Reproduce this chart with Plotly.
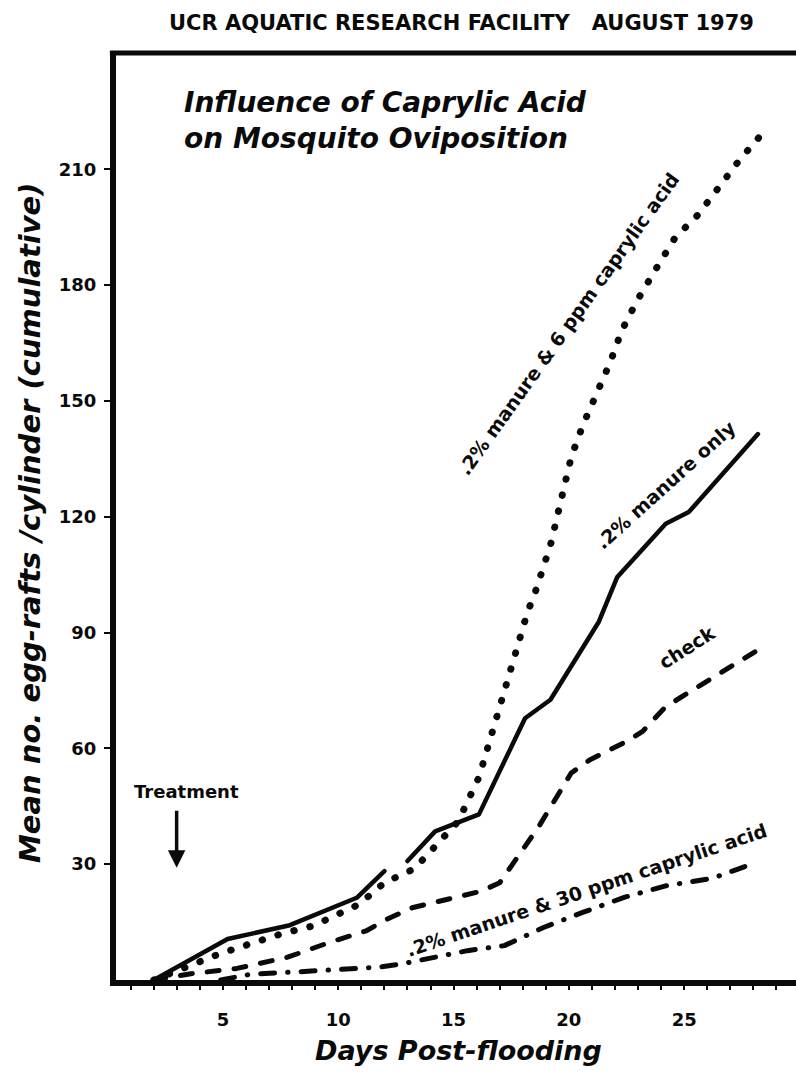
import plotly.graph_objects as go

# ---- data ----
days_manure_only = [2, 5.2, 7.9, 10.8, 12.0, None, 13.0, 14.2, 16.1, 18.1, 19.2, 21.3, 22.1, 24.2, 25.2, 28.2]
vals_manure_only = [0, 10.6, 14.2, 21.3, 28.2, None, 30.8, 38.5, 42.9, 67.8, 72.6, 92.8, 104.4, 118.2, 121.2, 141.4]

days_6ppm = [2, 4.9, 7.5, 8.9, 10.9, 12.0, 13.3, 14.3, 15.2, 16.1, 16.5, 16.9, 17.6, 18.2, 18.5,
             19.2, 19.8, 20.1, 20.6, 21.2, 21.8, 22.3, 23.0, 23.8, 24.6, 25.6, 26.6, 27.4, 28.4]
vals_6ppm = [0, 6.9, 11.9, 14.0, 19.6, 25.2, 28.8, 35.1, 41.1, 52.5, 60.9, 69.7, 82.9, 95.2, 99.7,
             112.6, 127.2, 135.4, 143.6, 151.7, 160.1, 168.3, 176.4, 184.4, 192.2, 198.2, 206.0, 212.4, 219.3]

days_check = [2, 3.6, 5.6, 7.8, 9.6, 11.2, 12.1, 13.2, 16.2, 17.0, 18.7, 20.1, 20.9, 22.5, 23.2, 24.2, 28.2]
vals_check = [0, 1.6, 3.0, 5.9, 9.7, 12.7, 15.7, 18.7, 23.0, 25.2, 39.8, 53.6, 57.0, 61.8, 64.4, 70.8, 85.5]

days_30ppm = [4.9, 6.2, 8.2, 9.8, 11.7, 12.7, 13.5, 15.6, 17.2, 18.9, 20.6, 22.4, 24.2, 26.2, 28.1]
vals_30ppm = [0, 1.5, 2.1, 2.6, 3.3, 4.1, 5.0, 7.6, 8.9, 13.6, 17.5, 21.4, 24.4, 26.3, 30.4]

x_tick_vals = [5, 10, 15, 20, 25]
x_minor_vals = list(range(1, 30))
y_tick_vals = [30, 60, 90, 120, 150, 180, 210]

FONT = "DejaVu Sans"
INK = "#0a0a0a"

fig = go.Figure()
fig.add_trace(go.Scatter(x=days_6ppm, y=vals_6ppm, mode="lines",
                         line=dict(color=INK, width=7, dash="0.5px,16px"),
                         connectgaps=False, hoverinfo="skip"))
fig.add_trace(go.Scatter(x=days_manure_only, y=vals_manure_only, mode="lines",
                         line=dict(color=INK, width=4.5), connectgaps=False, hoverinfo="skip"))
fig.add_trace(go.Scatter(x=days_check, y=vals_check, mode="lines",
                         line=dict(color=INK, width=5, dash="12px,15px"), hoverinfo="skip"))
fig.add_trace(go.Scatter(x=days_30ppm, y=vals_30ppm, mode="lines",
                         line=dict(color=INK, width=5, dash="14px,13px,0.5px,13px"), hoverinfo="skip"))

lab = dict(family=FONT, size=19, color=INK, weight="bold")
fig.add_annotation(x=19.96, y=170.0, text=".2% manure & 6 ppm caprylic acid", textangle=-54.5,
                   showarrow=False, font=lab)
fig.add_annotation(x=24.17, y=128.3, text=".2% manure only", textangle=-42,
                   showarrow=False, font=lab)
fig.add_annotation(x=25.14, y=86.2, text="check", textangle=-32.5,
                   showarrow=False, font=lab)
fig.add_annotation(x=20.75, y=23.3, text=".2% manure & 30 ppm caprylic acid", textangle=-18.6,
                   showarrow=False, font=lab)
fig.add_annotation(x=3.42, y=48.8, text="Treatment", showarrow=False,
                   font=dict(family=FONT, size=18, color=INK, weight="bold"))
fig.add_annotation(x=2.99, y=29.1, ax=2.99, ay=44.2, axref="x", ayref="y", text="",
                   showarrow=True, arrowhead=2, arrowsize=1, arrowwidth=3.5, arrowcolor=INK)

# titles
fig.add_annotation(xref="paper", yref="paper", x=0.5074, y=1.0324, xanchor="center", yanchor="middle",
                   text="UCR AQUATIC RESEARCH FACILITY   AUGUST 1979", showarrow=False,
                   font=dict(family=FONT, size=21, color=INK, weight="bold"))
fig.add_annotation(xref="paper", yref="paper", x=0.0971, y=0.9272, xanchor="left", yanchor="middle",
                   align="left", text="Influence of Caprylic Acid<br>on Mosquito Oviposition", showarrow=False,
                   font=dict(family=FONT, size=28, color=INK, weight="bold", style="italic"))
fig.add_annotation(xref="paper", yref="paper", x=0.503, y=-0.0765, xanchor="center", yanchor="middle",
                   text="Days Post-flooding", showarrow=False,
                   font=dict(family=FONT, size=27, color=INK, weight="bold", style="italic"))
fig.add_annotation(xref="paper", yref="paper", x=-0.1265, y=0.494, xanchor="center", yanchor="middle",
                   text="Mean no. egg-rafts /cylinder (cumulative)", textangle=-90, showarrow=False,
                   font=dict(family=FONT, size=29, color=INK, weight="bold", style="italic"))

# top border of the frame
fig.add_shape(type="line", xref="paper", yref="paper", x0=-0.009, x1=1.0, y0=1, y1=1,
              line=dict(color=INK, width=5))

tickfont = dict(family=FONT, size=18, color=INK, weight="bold")
fig.update_xaxes(range=[0.36, 29.85], showline=True, linewidth=6, linecolor=INK,
                 ticks="outside", tickvals=x_tick_vals, ticklen=4, tickwidth=2, tickcolor=INK,
                 minor=dict(tickvals=x_minor_vals, ticks="outside", ticklen=4, tickwidth=2, tickcolor=INK),
                 showgrid=False, zeroline=False, tickfont=tickfont, ticklabelstandoff=14)
fig.update_yaxes(range=[0, 240.1], showline=True, linewidth=6, linecolor=INK,
                 ticks="outside", tickvals=y_tick_vals, ticklen=6, tickwidth=2, tickcolor=INK,
                 showgrid=False, zeroline=False, tickfont=tickfont, ticklabelstandoff=4)

fig.update_layout(width=796, height=1072, margin=dict(l=116, r=0, t=53, b=92),
                  paper_bgcolor="white", plot_bgcolor="white", showlegend=False,
                  hovermode=False)

post = ("document.documentElement.style.margin='0';document.body.style.margin='0';"
        "document.body.style.overflow='hidden';"
        "var s=document.createElement('style');"
        "s.textContent='body{margin:0 !important;} .modebar-container{display:none !important;} "
        ".js-line{stroke-linecap:round !important;stroke-linejoin:round !important;}';"
        "document.head.appendChild(s);")
fig.write_html("out.html", post_script=post, config={"displayModeBar": False, "staticPlot": True})
